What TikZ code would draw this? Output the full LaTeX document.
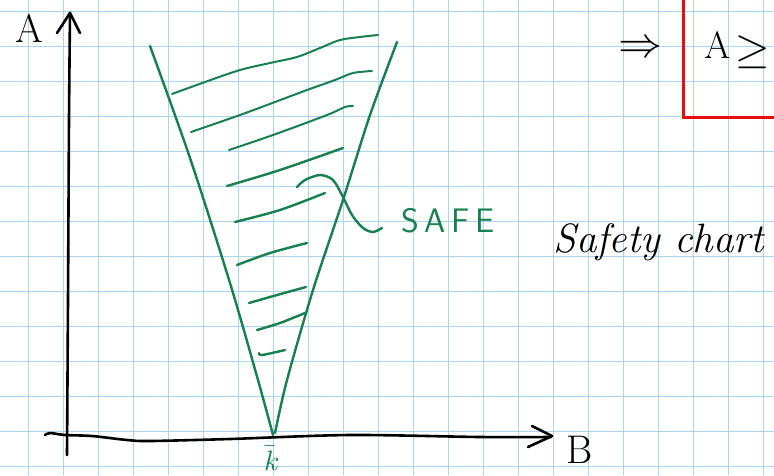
\documentclass[tikz,border=0pt]{standalone}
\usepackage{fontspec}
\usepackage{unicode-math}
\definecolor{sgreen}{RGB}{22,128,78}
\definecolor{gridblue}{RGB}{170,212,245}
\definecolor{sred}{RGB}{232,12,12}
\tikzset{
  gridline/.style={draw=gridblue, line width=0.9pt},
  ink/.style={draw=black, line width=2.6pt, line cap=round, line join=round},
  greenink/.style={draw=sgreen, line width=2.4pt, line cap=round, line join=round},
  redink/.style={draw=sred, line width=3pt},
  bigtext/.style={font=\fontsize{40}{40}\selectfont},
}
\begin{document}
\begin{tikzpicture}[x=1pt,y=-1pt]
\useasboundingbox (0,0) rectangle (774,475);
\clip (0,0) rectangle (774,475);
\fill[white] (0,0) rectangle (774,475);
% grid
\foreach \i in {0,...,21} \draw[gridline] ({28.3+35*\i},0) -- ++(0,475);
\foreach \j in {0,...,13} \draw[gridline] (0,{11.7+35*\j}) -- ++(774,0);
% axes
\draw[ink] plot[smooth] coordinates {(67,455) (68,300) (69,120) (70,13)};
\draw[ink] (57,33) -- (70,13) -- (80,33);
\draw[ink] plot[smooth] coordinates {(45,435) (50,433) (65,435) (92,436) (127,440) (150,441) (230,439) (350,435) (480,437) (551,437)};
\draw[ink] (532,426) -- (552,436) -- (528,447);
\node[bigtext] (labA) at (29,28) {A};
\node[bigtext] (labB) at (580,450) {B};
% safe cone
\draw[greenink] plot[smooth] coordinates {(150,46) (190,158) (230,283) (258,380) (273,435)};
\draw[greenink] plot[smooth] coordinates {(397,42) (370,115) (343,200) (313,290) (287,380) (275,433)};
% hatching
\draw[greenink,line width=2pt] plot[smooth] coordinates {(172,94) (205,82) (240,70) (270,63) (297,57) (320,48) (340,40) (360,37) (378,35)};
\draw[greenink,line width=2pt] plot[smooth] coordinates {(191,132) (240,115) (275,102) (307,90) (335,80) (353,73) (372,71)};
\draw[greenink,line width=2pt] plot[smooth] coordinates {(229,150) (273,135) (327,115) (345,107) (353,106)};
\draw[greenink] plot[smooth] coordinates {(227,186) (280,170) (343,148)};
\draw[greenink] plot[smooth] coordinates {(235,222) (280,210) (325,193)};
\draw[greenink] plot[smooth] coordinates {(237,265) (270,253) (307,243)};
\draw[greenink] plot[smooth] coordinates {(249,303) (277,295) (306,287)};
\draw[greenink] plot[smooth] coordinates {(257,330) (280,323) (305,313)};
\draw[greenink] plot[smooth] coordinates {(259,353) (262,355) (285,350)};
% callout
\draw[greenink] plot[smooth] coordinates {(297,187) (305,180) (320,175) (333,180) (343,197) (352,215) (363,228) (373,232) (382,228)};
\node[text=sgreen, font=\sffamily\fontsize{34}{34}\selectfont] (safe) at (448,221) {S\,A\,F\,E};
\node[text=sgreen, font=\fontsize{28}{28}\selectfont, inner sep=0pt] (kbar) at (272,458) {$\bar{k}$};
% right side
\node[font=\itshape\fontsize{41}{41}\selectfont, anchor=base west] (chart) at (550,252) {Safety chart};
\node[font=\fontsize{44}{44}\selectfont] (impl) at (640,46) {$\Rightarrow$};
\draw[redink] (683,-5) -- (683,117) -- (780,117);
\node[font=\fontsize{38}{38}\selectfont] (boxA) at (718,45) {A};
\node[font=\fontsize{44}{44}\selectfont, anchor=west] (geq) at (732,52) {$\geq$};
\end{tikzpicture}
\end{document}
